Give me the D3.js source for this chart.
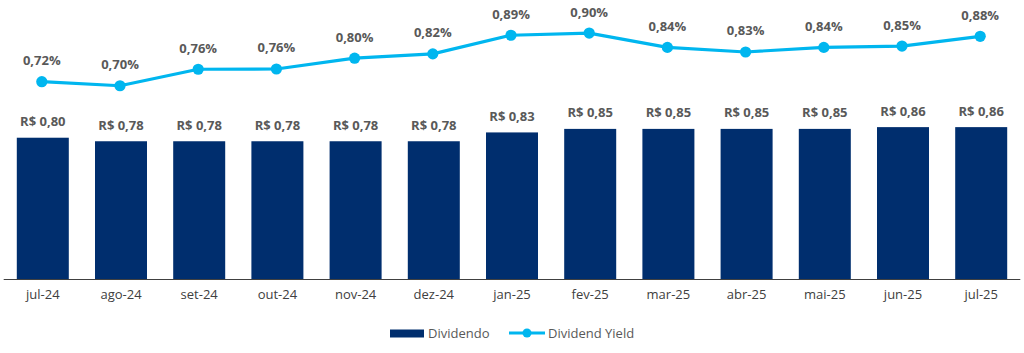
<!DOCTYPE html>
<html>
<head>
<meta charset="utf-8">
<script src="https://cdn.jsdelivr.net/npm/d3@7"></script>
<style>
  body { margin: 0; background: #fff; }
  svg { display: block; font-family: "Open Sans", "DejaVu Sans", sans-serif; }
</style>
</head>
<body>
<svg id="chart" width="1024" height="353"></svg>
<script>
// Dividendo (bars) + Dividend Yield (line), monthly jul-24 .. jul-25

const months    = ["jul-24", "ago-24", "set-24", "out-24", "nov-24", "dez-24",
                   "jan-25", "fev-25", "mar-25", "abr-25", "mai-25", "jun-25", "jul-25"];
const dividends = [0.80, 0.78, 0.78, 0.78, 0.78, 0.78, 0.83, 0.85, 0.85, 0.85, 0.85, 0.86, 0.86];
const yields    = [0.716, 0.701, 0.762, 0.763, 0.803, 0.819, 0.888, 0.896, 0.843, 0.826, 0.843, 0.848, 0.884];

const BAR_COLOR  = "#002e6e";
const LINE_COLOR = "#00b6ef";
const TEXT_COLOR = "#595959";

const svg = d3.select("#chart");

const x = d3.scaleBand()
  .domain(months).range([3.7, 1020.3])
  .paddingInner(0.335).paddingOuter(0.1675);

const yBar  = d3.scaleLinear().domain([0, 1]).range([279, 102.4]);
const yLine = d3.scaleLinear().domain([0.6, 1.0]).range([113, 5]);

const fmtComma = (v, d) => v.toFixed(d).replace(".", ",");

// ── Bars ─────────────────────────────────────────────────────────────────────
const data = months.map((m, i) => ({ m, div: dividends[i], dy: yields[i] }));

svg.append("g").selectAll("rect")
  .data(data)
  .join("rect")
    .attr("x", d => x(d.m)).attr("width", x.bandwidth())
    .attr("y", d => yBar(d.div)).attr("height", d => yBar(0) - yBar(d.div))
    .attr("fill", BAR_COLOR);

svg.append("g").selectAll("text")
  .data(data)
  .join("text")
    .attr("x", d => x(d.m) + x.bandwidth() / 2)
    .attr("y", d => yBar(d.div) - 11.5)
    .attr("text-anchor", "middle")
    .style("font-size", "13px").style("font-weight", "bold").style("fill", TEXT_COLOR)
    .text(d => "R$ " + fmtComma(d.div, 2));

// ── Axis ─────────────────────────────────────────────────────────────────────
svg.append("g")
  .attr("transform", `translate(0,${yBar(0)})`)
  .call(d3.axisBottom(x).tickSize(0).tickPadding(11))
  .call(ax => ax.select(".domain").attr("stroke", "#404040").attr("d", `M${x.range()[0]},0.5H${x.range()[1]}`))
  .selectAll("text")
    .style("font-family", "'Open Sans', sans-serif")
    .style("font-size", "13px").style("fill", "#404040");

// ── Line ─────────────────────────────────────────────────────────────────────
const cx = d => x(d.m) + x.bandwidth() / 2 - 1;

svg.append("path")
  .datum(data)
  .attr("fill", "none").attr("stroke", LINE_COLOR).attr("stroke-width", 3.2)
  .attr("stroke-linejoin", "round")
  .attr("d", d3.line().x(cx).y(d => yLine(d.dy)));

svg.append("g").selectAll("circle")
  .data(data)
  .join("circle")
    .attr("cx", cx).attr("cy", d => yLine(d.dy)).attr("r", 5.6)
    .attr("fill", LINE_COLOR);

svg.append("g").selectAll("text")
  .data(data)
  .join("text")
    .attr("x", cx).attr("y", d => yLine(d.dy) - 16.5)
    .attr("text-anchor", "middle")
    .style("font-size", "13px").style("font-weight", "bold").style("fill", TEXT_COLOR)
    .text(d => fmtComma(d.dy, 2) + "%");

// ── Legend ───────────────────────────────────────────────────────────────────
const legend = svg.append("g").attr("transform", "translate(0,333)");

legend.append("rect").attr("x", 390).attr("y", -3.5).attr("width", 34).attr("height", 8)
  .attr("fill", BAR_COLOR);
legend.append("text").attr("x", 428).attr("y", 0).attr("dy", "0.35em")
  .style("font-size", "13px").style("fill", TEXT_COLOR).text("Dividendo");

legend.append("line").attr("x1", 509).attr("x2", 545).attr("y1", 0).attr("y2", 0)
  .attr("stroke", LINE_COLOR).attr("stroke-width", 3.2);
legend.append("circle").attr("cx", 527).attr("cy", 0).attr("r", 4.5).attr("fill", LINE_COLOR);
legend.append("text").attr("x", 548).attr("y", 0).attr("dy", "0.35em")
  .style("font-size", "13px").style("fill", TEXT_COLOR).text("Dividend Yield");
</script>
</body>
</html>
